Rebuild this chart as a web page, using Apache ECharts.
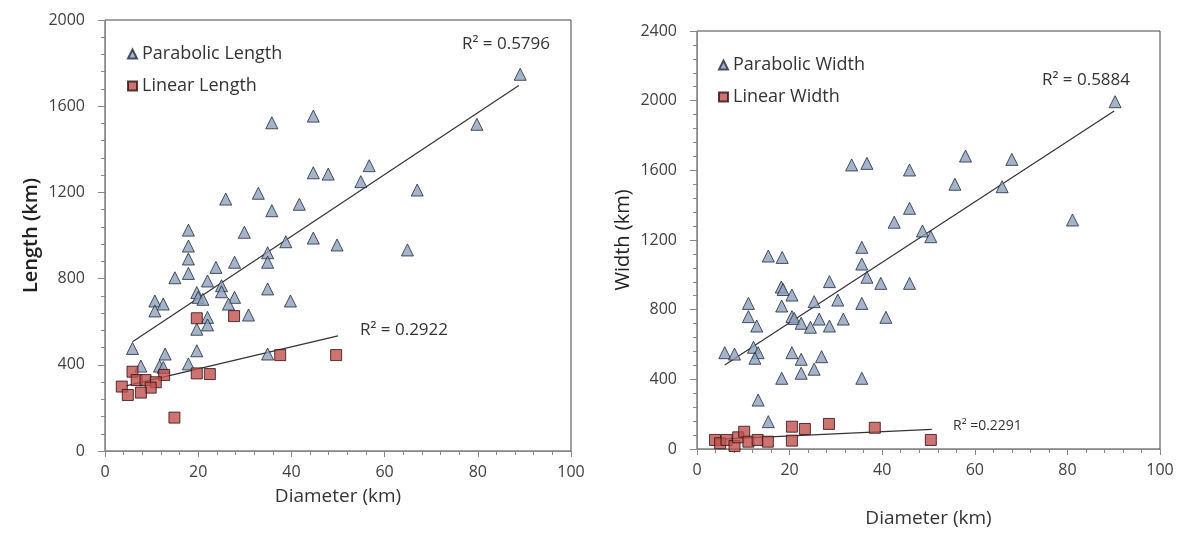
<!DOCTYPE html>
<html>
<head>
<meta charset="utf-8">
<script src="https://cdn.jsdelivr.net/npm/echarts@6/dist/echarts.min.js"></script>
<style>
  html, body { margin: 0; padding: 0; background: #fff; }
  #main { width: 1186px; height: 535px; }
</style>
</head>
<body>
<div id="main"></div>
<script>
// [diameter, length]
var lengthParabolic = [
  [35.8,1523],[44.7,1554],[44.7,1291],[47.9,1285],[25.9,1169],[32.9,1196],[35.8,1115],[41.7,1145],
  [17.9,1025],[29.9,1015],[44.7,988],[89.1,1748],[79.8,1516],[56.7,1324],[54.9,1250],[67,1211],
  [38.8,971],[49.8,956],[17.9,951],[17.9,891],[23.8,852],[27.8,876],[15,804],[17.9,824],[22,789],
  [34.9,920],[34.9,876],[34.9,752],[25,767],[25,739],[27.8,713],[26.5,682],[19.7,735],[20,713],
  [21,704],[39.8,696],[30.8,631],[10.7,696],[12.5,682],[10.7,650],[22,620],[22,585],[19.7,565],
  [5.9,476],[19.7,465],[12.9,450],[7.7,394],[11.7,394],[12.5,388],[17.9,404],[34.9,450],[64.9,933]
];
var lengthLinear = [
  [19.7,616],[27.7,626],[37.6,445],[49.6,445],[5.9,368],[19.7,360],[22.5,357],[12.7,353],
  [6.8,329],[8.7,329],[10.9,319],[3.6,299],[9.8,294],[4.9,260],[7.7,271],[14.9,155]
];
var lengthParabolicTrend = [[5.9,507],[88.8,1696]];
var lengthLinearTrend = [[4.5,302],[50,534]];

// [diameter, width]
var widthParabolic = [
  [33.4,1631],[36.7,1640],[45.9,1602],[45.9,1382],[42.6,1302],[48.7,1252],[50.5,1219],[35.6,1158],
  [90.3,1994],[58,1682],[68,1663],[55.7,1520],[65.9,1506],[81.1,1315],[35.6,1062],[36.7,986],
  [15.4,1108],[18.4,1100],[28.6,961],[39.7,951],[45.9,951],[18.2,930],[18.6,916],[20.5,884],
  [25.3,846],[30.4,855],[35.6,836],[11.1,836],[18.3,821],[11.1,760],[20.5,760],[21,750],[22.5,722],
  [24.5,699],[26.4,746],[28.6,706],[31.6,746],[40.8,756],[12.9,706],[6,553],[8.1,545],[12.2,584],
  [13.2,553],[12.5,521],[20.5,553],[22.5,515],[26.9,530],[22.5,435],[25.3,458],[18.3,406],[35.6,406],
  [13.2,281],[15.4,157]
];
var widthLinear = [
  [3.9,52],[5,33],[6.4,52],[8.1,17],[8.9,67],[10.2,99],[11.1,42],[13.1,52],[15.3,42],
  [20.5,128],[20.5,48],[23.3,115],[28.5,144],[38.4,122],[50.5,52]
];
var widthParabolicTrend = [[6,482],[90.1,1941]];
var widthLinearTrend = [[4,55],[50.7,113]];

var r2Labels = ['R\u00b2 = 0.5796', 'R\u00b2 = 0.2922', 'R\u00b2 = 0.5884', 'R\u00b2 =0.2291'];

var FONT = '"Open Sans", "Noto Sans", sans-serif';
var triStyle = { color: '#8ea1bd', borderColor: '#1f2a3a', borderWidth: 1 };
var sqStyle = { color: '#c0504d', borderColor: '#2a1010', borderWidth: 1 };

function xAxisOf(idx, gap) {
  return {
    gridIndex: idx, type: 'value', min: 0, max: 100, interval: 20,
    name: 'Diameter (km)', nameLocation: 'middle', nameGap: gap,
    nameTextStyle: { fontFamily: FONT, fontSize: 19, color: '#333' },
    axisLine: { lineStyle: { color: '#888' } },
    axisTick: { length: 6, lineStyle: { color: '#888' } },
    minorTick: { show: true, splitNumber: 5, length: 4, lineStyle: { color: '#888' } },
    axisLabel: { fontFamily: FONT, fontSize: 16, color: '#404040', margin: 13 },
    splitLine: { show: false }
  };
}
function yAxisOf(idx, name, max, weight) {
  return {
    gridIndex: idx, type: 'value', min: 0, max: max, interval: 400,
    name: name, nameLocation: 'middle', nameGap: 64,
    nameTextStyle: { fontFamily: FONT, fontSize: 20, color: '#222', fontWeight: weight },
    axisLine: { show: true, lineStyle: { color: '#888' } },
    axisTick: { show: true, length: 7, lineStyle: { color: '#888' } },
    minorTick: { show: true, splitNumber: 5, length: 4, lineStyle: { color: '#888' } },
    axisLabel: { fontFamily: FONT, fontSize: 16, color: '#404040', margin: 20,
      formatter: function (v) { return String(v); } },
    splitLine: { show: false }
  };
}
function dots(name, data, symbol, size, style, idx) {
  return {
    name: name, type: 'scatter', xAxisIndex: idx, yAxisIndex: idx,
    symbol: symbol, symbolSize: size, itemStyle: style, data: data, z: 3
  };
}
function trend(data, idx) {
  return {
    type: 'line', xAxisIndex: idx, yAxisIndex: idx, data: data, symbol: 'none',
    lineStyle: { color: '#333', width: 1.2 }, silent: true, z: 2
  };
}
function note(text, x, y, size) {
  return { type: 'text', left: x, top: y, style: { text: text, font: size + 'px ' + FONT, fill: '#333' } };
}

var chart = echarts.init(document.getElementById('main'));
chart.setOption({
  animation: false,
  backgroundColor: '#fff',
  grid: [
    { left: 105, top: 20, width: 466, height: 431, show: true, borderColor: '#444', borderWidth: 1 },
    { left: 697, top: 31, width: 463, height: 418, show: true, borderColor: '#444', borderWidth: 1 }
  ],
  xAxis: [xAxisOf(0, 36), xAxisOf(1, 60)],
  yAxis: [yAxisOf(0, 'Length (km)', 2000, 600), yAxisOf(1, 'Width (km)', 2400, 'normal')],
  legend: [
    {
      data: ['Parabolic Length', 'Linear Length'], orient: 'vertical', left: 122, top: 40,
      itemWidth: 9, itemHeight: 9, itemGap: 14,
      textStyle: { fontFamily: FONT, fontSize: 18, color: '#333' }
    },
    {
      data: ['Parabolic Width', 'Linear Width'], orient: 'vertical', left: 713, top: 51,
      itemWidth: 9, itemHeight: 9, itemGap: 14,
      textStyle: { fontFamily: FONT, fontSize: 18, color: '#333' }
    }
  ],
  graphic: [
    note(r2Labels[0], 462, 36, 17),
    note(r2Labels[1], 360, 322, 17),
    note(r2Labels[2], 1042, 72, 17),
    note(r2Labels[3], 953, 419, 14)
  ],
  series: [
    trend(lengthParabolicTrend, 0),
    trend(lengthLinearTrend, 0),
    dots('Parabolic Length', lengthParabolic, 'triangle', 12, triStyle, 0),
    dots('Linear Length', lengthLinear, 'rect', 11, sqStyle, 0),
    trend(widthParabolicTrend, 1),
    trend(widthLinearTrend, 1),
    dots('Parabolic Width', widthParabolic, 'triangle', 12, triStyle, 1),
    dots('Linear Width', widthLinear, 'rect', 11, sqStyle, 1)
  ]
});
</script>
</body>
</html>
